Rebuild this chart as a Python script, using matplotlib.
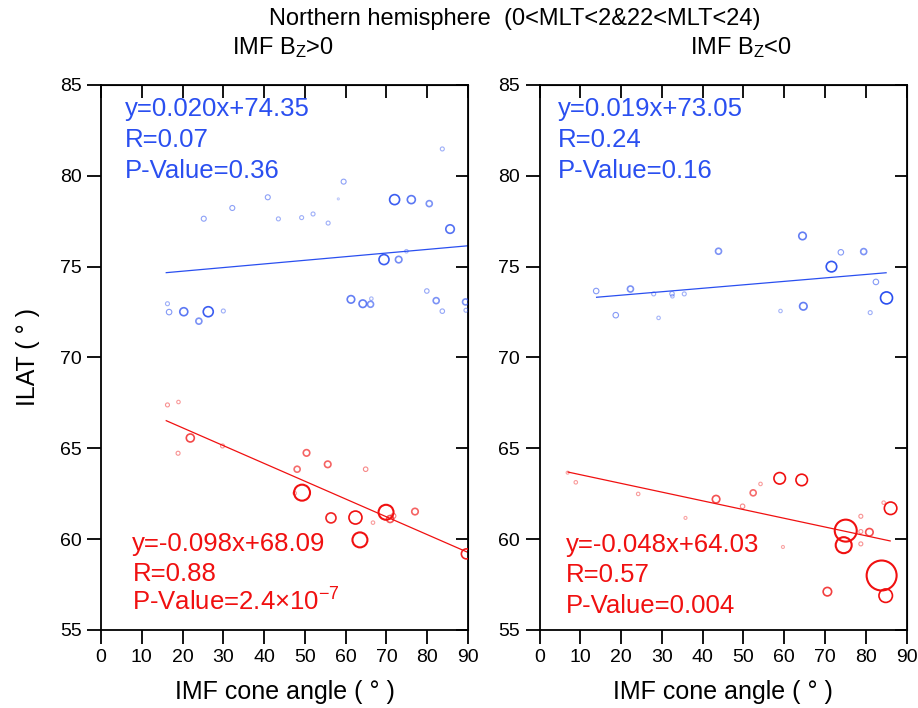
import matplotlib.pyplot as plt
import numpy as np

plt.rcParams['font.family'] = ['Liberation Sans', 'DejaVu Sans']
plt.rcParams['mathtext.fontset'] = 'custom'
plt.rcParams['mathtext.rm'] = 'Liberation Sans'
plt.rcParams['mathtext.it'] = 'Liberation Sans:italic'

# --- IMF Bz > 0 ---
bzp_blue_x = [83.7, 59.5, 40.9, 32.2, 25.2, 43.5, 49.2, 52.0, 55.7, 58.2, 72.0, 76.1, 80.5, 85.6,
              69.4, 73.0, 74.9, 16.3, 16.7, 20.3, 26.3, 30.0, 24.0, 61.3, 64.2, 66.1, 66.3,
              79.9, 82.2, 83.7, 89.4, 89.5]
bzp_blue_y = [81.48, 79.68, 78.82, 78.23, 77.64, 77.63, 77.70, 77.90, 77.40, 78.73, 78.69, 78.69,
              78.47, 77.07, 75.39, 75.39, 75.85, 72.96, 72.50, 72.52, 72.52, 72.56, 72.00, 73.20,
              72.96, 72.93, 73.24, 73.66, 73.13, 72.55, 73.06, 72.60]
bzp_blue_n = [4, 5, 5, 5, 5, 4, 4, 4, 4, 2, 10, 8, 6, 8.5, 10, 6.5, 3.5, 4, 5.5, 8, 10, 4, 6,
              7.5, 7.5, 6, 3.5, 4.5, 6, 4.5, 6, 4]

bzp_red_x = [16.3, 19.0, 21.9, 18.9, 29.8, 50.4, 55.6, 48.1, 64.9, 49.3, 47.5, 56.4, 62.4, 69.9,
             70.9, 71.7, 77.0, 66.7, 63.5, 89.6]
bzp_red_y = [67.39, 67.55, 65.57, 64.73, 65.13, 64.75, 64.12, 63.85, 63.85, 62.56, 62.53, 61.17,
             61.19, 61.48, 61.11, 61.28, 61.52, 60.91, 59.96, 59.19]
bzp_red_n = [4, 3.5, 8, 4, 4, 6.5, 6.5, 6, 4.5, 16, 3.5, 10, 13, 15, 7, 5, 6.5, 3.5, 15, 10]

# --- IMF Bz < 0 ---
bzn_blue_x = [64.5, 43.9, 73.9, 79.5, 71.6, 82.5, 85.1, 13.9, 22.3, 28.0, 32.5, 32.6, 35.5,
              18.7, 29.2, 59.1, 64.7, 81.1]
bzn_blue_y = [76.69, 75.85, 75.79, 75.83, 75.00, 74.16, 73.28, 73.66, 73.77, 73.50, 73.51,
              73.37, 73.50, 72.33, 72.18, 72.56, 72.82, 72.47]
bzn_blue_n = [7.5, 6, 5.5, 6, 10.5, 5.5, 12, 5.5, 6, 4, 4.5, 3.5, 4, 5.5, 3.5, 3.5, 7.5, 4]

bzn_red_x = [6.9, 8.9, 24.2, 35.8, 43.3, 49.8, 52.4, 54.2, 58.9, 64.3, 59.7, 75.1, 74.6, 78.8,
             78.8, 78.8, 80.9, 84.4, 86.1, 70.6, 83.9, 84.9]
bzn_red_y = [63.66, 63.13, 62.49, 61.17, 62.20, 61.81, 62.55, 63.04, 63.35, 63.26, 59.57, 60.47,
             59.67, 61.26, 60.42, 59.74, 60.38, 62.01, 61.70, 57.11, 58.00, 56.89]
bzn_red_n = [3, 3.5, 3.5, 3, 7.5, 4.5, 6, 3.5, 11.5, 11.5, 3, 22, 16, 4, 4, 4, 7.5, 3.5, 12.5,
             8.5, 30, 13.5]

# fit results (slope, intercept, R, p-value, x range)
fits = {
    'bzp_blue': (0.020, 74.35, '0.07', '0.36', 16, 90),
    'bzp_red': (-0.098, 68.09, '0.88', r'2.4$\times$10$^{-7}$', 16, 90),
    'bzn_blue': (0.019, 73.05, '0.24', '0.16', 14, 85),
    'bzn_red': (-0.048, 64.03, '0.57', '0.004', 7, 86),
}

BLUE = '#2a4ff0'
RED = '#f01010'


def draw_points(ax, x, y, n, color):
    n = np.array(n)
    s = (n / 1.39) ** 2
    alpha = np.clip(0.3 + 0.7 * (n - 2) / 9, 0.3, 1.0)
    for xi, yi, si, ai, ni in zip(x, y, s, alpha, n):
        lw = 0.8 if ni < 6 else (1.2 if ni < 14 else 1.5)
        ax.scatter(xi, yi, s=si, facecolors='none', edgecolors=color, alpha=ai,
                   linewidths=lw, zorder=3)


def draw_fit(ax, key, color, ytext):
    a, b, r, p, x0, x1 = fits[key]
    xx = np.array([x0, x1])
    ax.plot(xx, a * xx + b, color=color, lw=0.9, zorder=2)
    sign = '+' if b >= 0 else '-'
    lines = [f'y={a:.3f}x{sign}{b:.2f}', f'R={r}', f'P-Value={p}']
    for t, yt in zip(lines, ytext):
        ax.text(ytext[3], yt, t, color=color, fontsize=18.5, va='center', ha='left')


fig = plt.figure(figsize=(9.18, 7.08), dpi=100)
ax1 = fig.add_axes([101 / 918, 1 - 630 / 708, 367 / 918, 545 / 708])
ax2 = fig.add_axes([539.5 / 918, 1 - 630 / 708, 367 / 918, 545 / 708])

for ax in (ax1, ax2):
    ax.set_xlim(0, 90)
    ax.set_ylim(55, 85)
    ax.set_xticks(np.arange(0, 91, 10))
    ax.set_yticks(np.arange(55, 86, 5))
    ax.tick_params(direction='out', length=10, width=1.3, labelsize=14, pad=4)
    for sp in ax.spines.values():
        sp.set_linewidth(1.3)
    top = ax.secondary_xaxis('top')
    top.set_xticks(np.arange(0, 91, 10))
    top.tick_params(direction='in', length=9, width=1.3, labeltop=False)
    right = ax.secondary_yaxis('right')
    right.set_yticks(np.arange(55, 86, 5))
    right.tick_params(direction='in', length=9, width=1.3, labelright=False)
    ax.set_xlabel('IMF cone angle ( ° )', fontsize=18, labelpad=10)

ax1.set_ylabel('ILAT ( ° )', fontsize=18, labelpad=14)

draw_points(ax1, bzp_blue_x, bzp_blue_y, bzp_blue_n, BLUE)
draw_points(ax1, bzp_red_x, bzp_red_y, bzp_red_n, RED)
draw_points(ax2, bzn_blue_x, bzn_blue_y, bzn_blue_n, BLUE)
draw_points(ax2, bzn_red_x, bzn_red_y, bzn_red_n, RED)

draw_fit(ax1, 'bzp_blue', BLUE, (83.7, 81.95, 80.25, 5.9))
draw_fit(ax1, 'bzp_red', RED, (59.74, 58.1, 56.55, 7.7))
draw_fit(ax2, 'bzn_blue', BLUE, (83.7, 81.95, 80.25, 4.6))
draw_fit(ax2, 'bzn_red', RED, (59.68, 58.0, 56.3, 6.5))

fig.text(515 / 918, 1 - 19 / 708, 'Northern hemisphere  (0<MLT<2&22<MLT<24)',
         fontsize=17, ha='center', va='center')
fig.text(232 / 918, 1 - 48 / 708, r'IMF B$_\mathregular{Z}$>0', fontsize=17, ha='left', va='center')
fig.text(690 / 918, 1 - 48 / 708, r'IMF B$_\mathregular{Z}$<0', fontsize=17, ha='left', va='center')

fig.savefig('out.png', dpi=100)
